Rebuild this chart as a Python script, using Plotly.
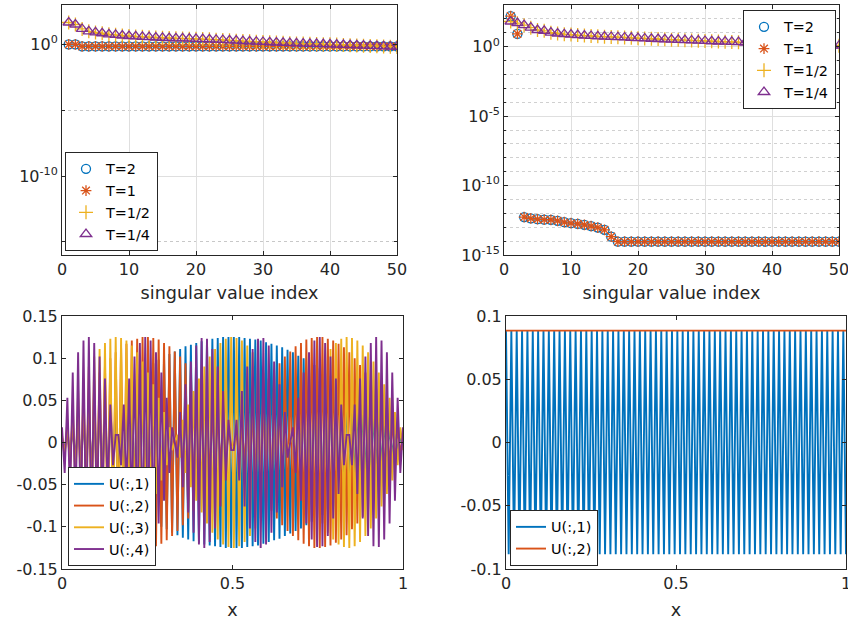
import numpy as np
import plotly.graph_objects as go

# ---------------- data ----------------
sv_index = list(range(1, 51))

# top-left panel (singular values)
tl_T2 = [1.0, 1.0, 0.71, 0.71, 0.71, 0.71, 0.71, 0.71, 0.71, 0.71,
         0.71, 0.71, 0.71, 0.71, 0.71, 0.71, 0.71, 0.71, 0.71, 0.71,
         0.71, 0.71, 0.71, 0.71, 0.71, 0.71, 0.71, 0.71, 0.71, 0.71,
         0.71, 0.71, 0.71, 0.71, 0.71, 0.71, 0.71, 0.71, 0.71, 0.71,
         0.71, 0.71, 0.71, 0.71, 0.71, 0.71, 0.71, 0.71, 0.71, 0.71]
tl_T1 = list(tl_T2)
tl_Thalf = [46.8, 33.1, 15.1, 10.0, 8.3, 7.1, 5.9, 5.4, 4.8, 4.4,
            4.1, 3.8, 3.6, 3.4, 3.2, 3.1, 2.95, 2.9, 2.75, 2.7,
            2.57, 2.45, 2.3, 2.2, 2.05, 1.95, 1.82, 1.74, 1.62, 1.55,
            1.48, 1.41, 1.35, 1.26, 1.2, 1.17, 1.12, 1.1, 1.05, 1.02,
            0.98, 0.93, 0.89, 0.85, 0.81, 0.78, 0.74, 0.71, 0.68, 0.65]
tl_Tquarter = list(tl_Thalf)

# top-right panel (singular values)
tr_T2 = [158.0, 8.3, 5.4e-13, 4.3e-13, 3.8e-13, 3.5e-13, 3.4e-13, 2.9e-13, 2.3e-13, 1.95e-13,
         1.74e-13, 1.48e-13, 1.2e-13, 9.5e-14, 6.5e-14, 2.1e-14, 9.1e-15, 9.1e-15, 9.1e-15, 9.1e-15,
         9.1e-15, 9.1e-15, 9.1e-15, 9.1e-15, 9.1e-15, 9.1e-15, 9.1e-15, 9.1e-15, 9.1e-15, 9.1e-15,
         9.1e-15, 9.1e-15, 9.1e-15, 9.1e-15, 9.1e-15, 9.1e-15, 9.1e-15, 9.1e-15, 9.1e-15, 9.1e-15,
         9.1e-15, 9.1e-15, 9.1e-15, 9.1e-15, 9.1e-15, 9.1e-15, 9.1e-15, 9.1e-15, 9.1e-15, 9.1e-15]
tr_T1 = list(tr_T2)
tr_Thalf = [64.6, 49.0, 35.5, 23.4, 15.8, 13.8, 10.2, 8.9, 7.9, 7.4,
            6.8, 6.3, 5.9, 5.6, 5.25, 5.0, 4.8, 4.6, 4.3, 4.1,
            3.9, 3.7, 3.55, 3.4, 3.2, 3.1, 2.95, 2.8, 2.7, 2.57,
            2.45, 2.35, 2.3, 2.2, 2.1, 2.0, 1.9, 1.82, 1.74, 1.66,
            1.62, 1.58, 1.55, 1.51, 1.48, 1.41, 1.35, 1.29, 1.23, 1.17]
tr_Tquarter = list(tr_Thalf)

# bottom panels (singular vectors sampled on [0, 1])
x_grid = np.linspace(0, 1, 128)

bl_U1 = [0.003, -0.006, 0.009, -0.012, 0.015, -0.018, 0.021, -0.024, 0.027, -0.030,
         0.033, -0.036, 0.039, -0.042, 0.045, -0.047, 0.050, -0.053, 0.056, -0.059,
         0.061, -0.064, 0.066, -0.069, 0.072, -0.074, 0.076, -0.079, 0.081, -0.083,
         0.086, -0.088, 0.090, -0.092, 0.094, -0.096, 0.098, -0.100, 0.102, -0.103,
         0.105, -0.107, 0.108, -0.110, 0.111, -0.113, 0.114, -0.115, 0.116, -0.117,
         0.118, -0.119, 0.120, -0.121, 0.122, -0.122, 0.123, -0.123, 0.124, -0.124,
         0.125, -0.125, 0.125, -0.125,
         0.125, -0.125, 0.125, -0.125, 0.124, -0.124, 0.123, -0.123, 0.122, -0.122,
         0.121, -0.120, 0.119, -0.118, 0.117, -0.116, 0.115, -0.114, 0.113, -0.111,
         0.110, -0.108, 0.107, -0.105, 0.103, -0.102, 0.100, -0.098, 0.096, -0.094,
         0.092, -0.090, 0.088, -0.086, 0.083, -0.081, 0.079, -0.076, 0.074, -0.072,
         0.069, -0.066, 0.064, -0.061, 0.059, -0.056, 0.053, -0.050, 0.047, -0.045,
         0.042, -0.039, 0.036, -0.033, 0.030, -0.027, 0.024, -0.021, 0.018, -0.015,
         0.012, -0.009, 0.006, -0.003]

bl_U2 = [0.006, -0.012, 0.018, -0.024, 0.030, -0.036, 0.042, -0.047, 0.053, -0.059,
         0.064, -0.069, 0.074, -0.079, 0.083, -0.088, 0.092, -0.096, 0.100, -0.103,
         0.107, -0.110, 0.113, -0.115, 0.117, -0.119, 0.121, -0.122, 0.123, -0.124,
         0.125, -0.125, 0.125, -0.125, 0.124, -0.123, 0.122, -0.120, 0.118, -0.116,
         0.114, -0.111, 0.108, -0.105, 0.102, -0.098, 0.094, -0.090, 0.086, -0.081,
         0.076, -0.072, 0.066, -0.061, 0.056, -0.050, 0.045, -0.039, 0.033, -0.027,
         0.021, -0.015, 0.009, -0.003,
         -0.003, 0.009, -0.015, 0.021, -0.027, 0.033, -0.039, 0.045, -0.050, 0.056,
         -0.061, 0.066, -0.072, 0.076, -0.081, 0.086, -0.090, 0.094, -0.098, 0.102,
         -0.105, 0.108, -0.111, 0.114, -0.116, 0.118, -0.120, 0.122, -0.123, 0.124,
         -0.125, 0.125, -0.125, 0.125, -0.124, 0.123, -0.122, 0.121, -0.119, 0.117,
         -0.115, 0.113, -0.110, 0.107, -0.103, 0.100, -0.096, 0.092, -0.088, 0.083,
         -0.079, 0.074, -0.069, 0.064, -0.059, 0.053, -0.047, 0.042, -0.036, 0.030,
         -0.024, 0.018, -0.012, 0.006]

bl_U3 = [0.009, -0.018, 0.027, -0.036, 0.045, -0.053, 0.061, -0.069, 0.076, -0.083,
         0.090, -0.096, 0.102, -0.107, 0.111, -0.115, 0.118, -0.121, 0.123, -0.124,
         0.125, -0.125, 0.124, -0.123, 0.121, -0.118, 0.115, -0.111, 0.107, -0.102,
         0.096, -0.090, 0.083, -0.076, 0.069, -0.061, 0.053, -0.045, 0.036, -0.027,
         0.018, -0.009, 0.000, 0.009, -0.018, 0.027, -0.036, 0.045, -0.053, 0.061,
         -0.069, 0.076, -0.083, 0.090, -0.096, 0.102, -0.107, 0.111, -0.115, 0.118,
         -0.121, 0.123, -0.124, 0.125,
         -0.125, 0.124, -0.123, 0.121, -0.118, 0.115, -0.111, 0.107, -0.102, 0.096,
         -0.090, 0.083, -0.076, 0.069, -0.061, 0.053, -0.045, 0.036, -0.027, 0.018,
         -0.009, 0.000, 0.009, -0.018, 0.027, -0.036, 0.045, -0.053, 0.061, -0.069,
         0.076, -0.083, 0.090, -0.096, 0.102, -0.107, 0.111, -0.115, 0.118, -0.121,
         0.123, -0.124, 0.125, -0.125, 0.124, -0.123, 0.121, -0.118, 0.115, -0.111,
         0.107, -0.102, 0.096, -0.090, 0.083, -0.076, 0.069, -0.061, 0.053, -0.045,
         0.036, -0.027, 0.018, -0.009]

bl_U4 = [0.018, -0.036, 0.053, -0.069, 0.083, -0.096, 0.107, -0.115, 0.121, -0.124,
         0.125, -0.123, 0.118, -0.111, 0.102, -0.090, 0.076, -0.061, 0.045, -0.027,
         0.009, 0.009, -0.027, 0.045, -0.061, 0.076, -0.090, 0.102, -0.111, 0.118,
         -0.123, 0.125, -0.124, 0.121, -0.115, 0.107, -0.096, 0.083, -0.069, 0.053,
         -0.036, 0.018, 0.000, -0.018, 0.036, -0.053, 0.069, -0.083, 0.096, -0.107,
         0.115, -0.121, 0.124, -0.125, 0.123, -0.118, 0.111, -0.102, 0.090, -0.076,
         0.061, -0.045, 0.027, -0.009,
         -0.009, 0.027, -0.045, 0.061, -0.076, 0.090, -0.102, 0.111, -0.118, 0.123,
         -0.125, 0.124, -0.121, 0.115, -0.107, 0.096, -0.083, 0.069, -0.053, 0.036,
         -0.018, 0.000, 0.018, -0.036, 0.053, -0.069, 0.083, -0.096, 0.107, -0.115,
         0.121, -0.124, 0.125, -0.123, 0.118, -0.111, 0.102, -0.090, 0.076, -0.061,
         0.045, -0.027, 0.009, 0.009, -0.027, 0.045, -0.061, 0.076, -0.090, 0.102,
         -0.111, 0.118, -0.123, 0.125, -0.124, 0.121, -0.115, 0.107, -0.096, 0.083,
         -0.069, 0.053, -0.036, 0.018]

br_U1 = [0.0884, -0.0884] * 64
br_U2 = [0.0884] * 128

# ---------------- style ----------------
BLUE, ORANGE, YELLOW, PURPLE = '#0072BD', '#D95319', '#EDB120', '#7E2F8E'
W, H = 848, 620
FONT = 'DejaVu Sans, Liberation Sans, Arial, sans-serif'
AXC = '#262626'
TICK_SIZE, LABEL_SIZE, LEG_SIZE = 16, 17.6, 14.4


def xd(a, b):
    return [a / W, b / W]


def yd(top, bottom):
    return [1 - bottom / H, 1 - top / H]


fig = go.Figure()

marker_specs = [
    ('T=2', 'circle-open', BLUE, 9),
    ('T=1', 'asterisk-open', ORANGE, 9),
    ('T=1/2', 'cross-thin-open', YELLOW, 10),
    ('T=1/4', 'triangle-up-open', PURPLE, 10),
]

for (name, sym, col, sz), vals in zip(marker_specs, [tl_T2, tl_T1, tl_Thalf, tl_Tquarter]):
    fig.add_trace(go.Scatter(x=sv_index, y=vals, mode='markers', name=name,
                             marker=dict(symbol=sym, color=col, size=sz, line=dict(width=1.3, color=col)),
                             xaxis='x', yaxis='y', legend='legend'))

for (name, sym, col, sz), vals in zip(marker_specs, [tr_T2, tr_T1, tr_Thalf, tr_Tquarter]):
    fig.add_trace(go.Scatter(x=sv_index, y=vals, mode='markers', name=name,
                             marker=dict(symbol=sym, color=col, size=sz, line=dict(width=1.3, color=col)),
                             xaxis='x2', yaxis='y2', legend='legend2'))

for name, col, vals in [('U(:,1)', BLUE, bl_U1), ('U(:,2)', ORANGE, bl_U2),
                        ('U(:,3)', YELLOW, bl_U3), ('U(:,4)', PURPLE, bl_U4)]:
    fig.add_trace(go.Scatter(x=x_grid, y=vals, mode='lines', name=name,
                             line=dict(color=col, width=1.9),
                             xaxis='x3', yaxis='y3', legend='legend3'))

for name, col, vals in [('U(:,1)', BLUE, br_U1), ('U(:,2)', ORANGE, br_U2)]:
    fig.add_trace(go.Scatter(x=x_grid, y=vals, mode='lines', name=name,
                             line=dict(color=col, width=1.9),
                             xaxis='x4', yaxis='y4', legend='legend4'))

base_axis = dict(showline=True, linecolor=AXC, linewidth=1, mirror='ticks', ticks='inside',
                 ticklen=4, tickcolor=AXC, zeroline=False, ticklabeloverflow='allow',
                 tickfont=dict(family=FONT, size=TICK_SIZE, color=AXC))
grid = dict(showgrid=True, gridcolor='#dfdfdf', gridwidth=1)
nogrid = dict(showgrid=False)
title_font = dict(family=FONT, size=LABEL_SIZE, color=AXC)


def sup(p):
    return '10<sup>%d</sup>' % p


xtop = dict(range=[0, 50], tickvals=[0, 10, 20, 30, 40, 50], **base_axis, **grid,
            title=dict(text='singular value index', font=title_font, standoff=8))

fig.update_layout(
    width=W, height=H, paper_bgcolor='white', plot_bgcolor='white',
    margin=dict(l=0, r=0, t=0, b=0, autoexpand=False),
    font=dict(family=FONT, color=AXC),
    xaxis=dict(domain=xd(62, 397), anchor='y', **xtop),
    yaxis=dict(domain=yd(5, 255), anchor='x', type='log', range=[-16, 3],
               tickvals=[1e-10, 1], ticktext=[sup(-10), sup(0)], **base_axis, **grid,
               minor=dict(tickvals=[1e-15, 1e-5], showgrid=True, griddash='dot',
                          gridcolor='#c8c8c8', ticks='inside', ticklen=3, tickcolor=AXC)),
    xaxis2=dict(domain=xd(504, 839), anchor='y2', **xtop),
    yaxis2=dict(domain=yd(5, 255), anchor='x2', type='log', range=[-15, 3],
                tickvals=[1e-15, 1e-10, 1e-5, 1], ticktext=[sup(-15), sup(-10), sup(-5), sup(0)],
                **base_axis, **grid,
                minor=dict(tickvals=[10.0 ** p for p in range(-14, 3) if p % 5 != 0],
                           showgrid=True, griddash='dot', gridcolor='#d0d0d0',
                           ticks='inside', ticklen=2, tickcolor=AXC)),
    xaxis3=dict(domain=xd(62, 403), anchor='y3', range=[0, 1], tickvals=[0, 0.5, 1],
                ticktext=['0', '0.5', '1'], **base_axis, **nogrid,
                title=dict(text='x', font=title_font, standoff=13)),
    yaxis3=dict(domain=yd(316, 569), anchor='x3', range=[-0.15, 0.15],
                tickvals=[-0.15, -0.1, -0.05, 0, 0.05, 0.1, 0.15],
                ticktext=['-0.15', '-0.1', '-0.05', '0', '0.05', '0.1', '0.15'], **base_axis, **nogrid),
    xaxis4=dict(domain=xd(506, 846), anchor='y4', range=[0, 1], tickvals=[0, 0.5, 1],
                ticktext=['0', '0.5', '1'], **base_axis, **nogrid,
                title=dict(text='x', font=title_font, standoff=13)),
    yaxis4=dict(domain=yd(316, 569), anchor='x4', range=[-0.1, 0.1],
                tickvals=[-0.1, -0.05, 0, 0.05, 0.1],
                ticktext=['-0.1', '-0.05', '0', '0.05', '0.1'], **base_axis, **nogrid),
)

leg = dict(bgcolor='white', bordercolor=AXC, borderwidth=1, itemwidth=30,
           font=dict(family=FONT, size=LEG_SIZE, color='black'), tracegroupgap=0)
fig.update_layout(
    legend=dict(x=65 / W, y=1 - 251 / H, xanchor='left', yanchor='bottom', **leg),
    legend2=dict(x=836 / W, y=1 - 10 / H, xanchor='right', yanchor='top', **leg),
    legend3=dict(x=68 / W, y=1 - 566 / H, xanchor='left', yanchor='bottom', **leg),
    legend4=dict(x=510 / W, y=1 - 566 / H, xanchor='left', yanchor='bottom', **leg),
)

fig.write_html('out.html', config={'displayModeBar': False},
               post_script="document.body.style.margin='0';document.body.style.overflow='hidden';")
